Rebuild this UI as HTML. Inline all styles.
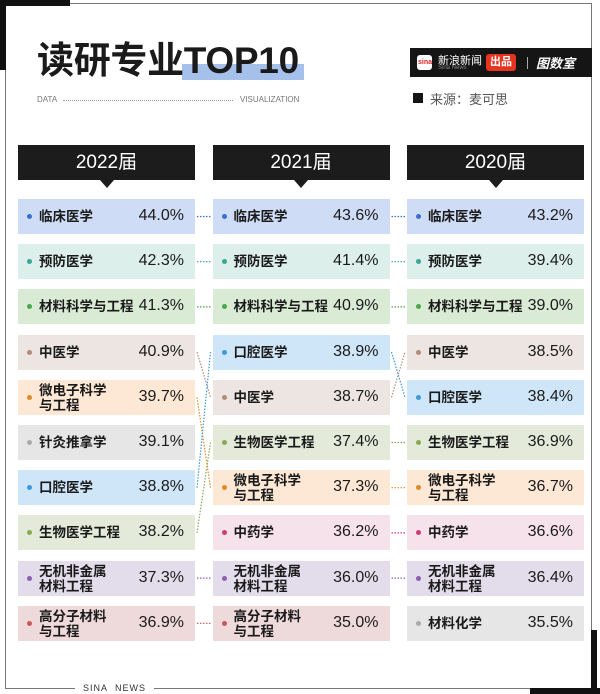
<!DOCTYPE html>
<html><head><meta charset="utf-8">
<style>
*{margin:0;padding:0;box-sizing:border-box}
body{width:600px;height:694px;background:#fff;position:relative;overflow:hidden;font-family:"Liberation Sans","Noto Sans CJK SC",sans-serif;color:#1a1a1a}
.abs{position:absolute}
.box{position:absolute;height:35px}
.dot{position:absolute;width:5px;height:5px;border-radius:50%}
.lab{position:absolute;font-weight:bold;font-size:13.5px;line-height:15px}
.val{position:absolute;font-size:16px;right:11px;text-align:right}
.hdr{position:absolute;top:145px;width:177px;height:35px;background:#1c1c1c;color:#fff;font-size:19px;text-align:center;line-height:35px}
.hdr:after{content:"";position:absolute;left:50%;margin-left:-7px;bottom:-8px;border-left:7px solid transparent;border-right:7px solid transparent;border-top:8px solid #1c1c1c}
</style></head><body>
<div class="abs" style="left:5px;top:3px;width:587px;height:686px;border:1px solid #777"></div>
<div class="abs" style="left:0;top:0;width:70px;height:6px;background:#111"></div>
<div class="abs" style="left:0;top:0;width:6px;height:70px;background:#111"></div>
<div class="abs" style="left:530px;top:688px;width:70px;height:6px;background:#111"></div>
<div class="abs" style="left:591px;top:630px;width:6px;height:64px;background:#111"></div>
<div class="abs" style="left:75px;top:683px;background:#fff;padding:0 8px;font-size:9px;letter-spacing:1px;color:#333">SINA&nbsp;&nbsp;NEWS</div>

<div class="abs" style="left:182px;top:64px;width:122px;height:16px;background:#a5c0ea"></div>
<div class="abs" style="left:37px;top:39px;font-size:37px;font-weight:bold;line-height:44px;letter-spacing:-0.3px">读研专业TOP10</div>
<div class="abs" style="left:37px;top:95px;font-size:8px;color:#777">DATA</div>
<div class="abs" style="left:63px;top:100px;width:170px;border-top:1px dotted #999"></div>
<div class="abs" style="left:240px;top:95px;font-size:8px;color:#777">VISUALIZATION</div>

<div class="abs" style="left:410px;top:48px;width:182px;height:29px;background:#151515">
  <div class="abs" style="left:7px;top:7px;width:15px;height:15px;background:#fff;border-radius:3px"><span style="color:#d22;font-size:7px;font-weight:bold;position:absolute;top:4px;left:1px">sina</span></div>
  <div class="abs" style="left:28px;top:4px;color:#fff;font-size:11px">新浪新闻</div>
  <div class="abs" style="left:28px;top:17px;color:#888;font-size:6px">Sina News</div>
  <div class="abs" style="left:76px;top:6px;width:30px;height:17px;background:#e5341f;border-radius:3px;color:#fff;font-size:11px;font-weight:bold;text-align:center;line-height:17px">出品</div>
  <div class="abs" style="left:117px;top:9px;width:1px;height:12px;background:#aaa"></div>
  <div class="abs" style="left:126px;top:5px;color:#fff;font-size:13px;font-weight:bold;font-style:italic">图数室</div>
</div>
<div class="abs" style="left:413px;top:93px;width:10px;height:10px;background:#151515"></div>
<div class="abs" style="left:430px;top:89px;font-size:13px;color:#555">来源：麦可思</div>

<svg id="links" class="abs" style="left:0;top:0" width="600" height="694"></svg>
<div id="chart"></div>

<script>
const years = ["2022届","2021届","2020届"];
const majors2022 = ["临床医学","预防医学","材料科学与工程","中医学","微电子科学<br>与工程","针灸推拿学","口腔医学","生物医学工程","无机非金属<br>材料工程","高分子材料<br>与工程"];
const values2022 = [44.0,42.3,41.3,40.9,39.7,39.1,38.8,38.2,37.3,36.9];
const majors2021 = ["临床医学","预防医学","材料科学与工程","口腔医学","中医学","生物医学工程","微电子科学<br>与工程","中药学","无机非金属<br>材料工程","高分子材料<br>与工程"];
const values2021 = [43.6,41.4,40.9,38.9,38.7,37.4,37.3,36.2,36.0,35.0];
const majors2020 = ["临床医学","预防医学","材料科学与工程","中医学","口腔医学","生物医学工程","微电子科学<br>与工程","中药学","无机非金属<br>材料工程","材料化学"];
const values2020 = [43.2,39.4,39.0,38.5,38.4,36.9,36.7,36.6,36.4,35.5];

const colors = {
 "临床医学":["#cfdcf5","#3a6fd0"],"预防医学":["#dcefea","#3aa594"],"材料科学与工程":["#d9ebd5","#4aa64a"],
 "中医学":["#ece5e2","#b48a7a"],"微电子科学与工程":["#fce8d5","#e08a2a"],"针灸推拿学":["#e6e6e6","#aaa"],
 "口腔医学":["#cfe6f8","#3c9ad8"],"生物医学工程":["#e3eada","#8aaa50"],"无机非金属材料工程":["#e3dcea","#8a60b0"],
 "高分子材料与工程":["#efdadb","#c45a5a"],"中药学":["#f5e2eb","#d03a7a"],"材料化学":["#e6e6e6","#aaa"]
};
const colX = i => 18 + i*194.5;
const colW = 177;
const rowY = r => 199 + r*45.2;
const rowH = 35;

const chart = document.getElementById('chart');
const svg = document.getElementById('links');
const cols = [[majors2022,values2022],[majors2021,values2021],[majors2020,values2020]];

years.forEach((y,i)=>{
  const h=document.createElement('div');
  h.className='hdr';
  h.style.left=colX(i)+'px';
  h.textContent=y;
  
  
  chart.appendChild(h);
});

cols.forEach(([names,vals],ci)=>{
  names.forEach((n,r)=>{
    const key=n.replace('<br>','');
    const c=colors[key];
    const b=document.createElement('div');
    b.className='box';
    b.style.left=colX(ci)+'px';b.style.top=rowY(r)+'px';b.style.width=colW+'px';b.style.background=c[0];
    
    
    const d=document.createElement('div');d.className='dot';d.style.left='9px';d.style.top='15px';d.style.background=c[1];
    
    
    const l=document.createElement('div');l.className='lab';l.style.left='21px';
    const two=n.includes('<br>');
    l.style.top=two?'3px':'10px';
    l.innerHTML=n;
    
    
    const v=document.createElement('div');v.className='val';v.style.top='8px';
    v.textContent=vals[r].toFixed(1)+'%';
    
    
    b.appendChild(d);b.appendChild(l);b.appendChild(v);
    chart.appendChild(b);
  });
});

for(let ci=0;ci<2;ci++){
  const a=cols[ci][0].map(s=>s.replace('<br>','')), bb=cols[ci+1][0].map(s=>s.replace('<br>',''));
  a.forEach((n,r)=>{
    const r2=bb.indexOf(n); if(r2<0) return;
    const ln=document.createElementNS('http://www.w3.org/2000/svg','line');
    ln.setAttribute('x1',colX(ci)+colW+2);ln.setAttribute('y1',rowY(r)+rowH/2);
    ln.setAttribute('x2',colX(ci+1)-2);ln.setAttribute('y2',rowY(r2)+rowH/2);
    ln.setAttribute('stroke',colors[n][1]);ln.setAttribute('stroke-width','1.2');ln.setAttribute('stroke-dasharray','1.5 1.5');
    
    
    svg.appendChild(ln);
  });
}
</script>
</body></html>
